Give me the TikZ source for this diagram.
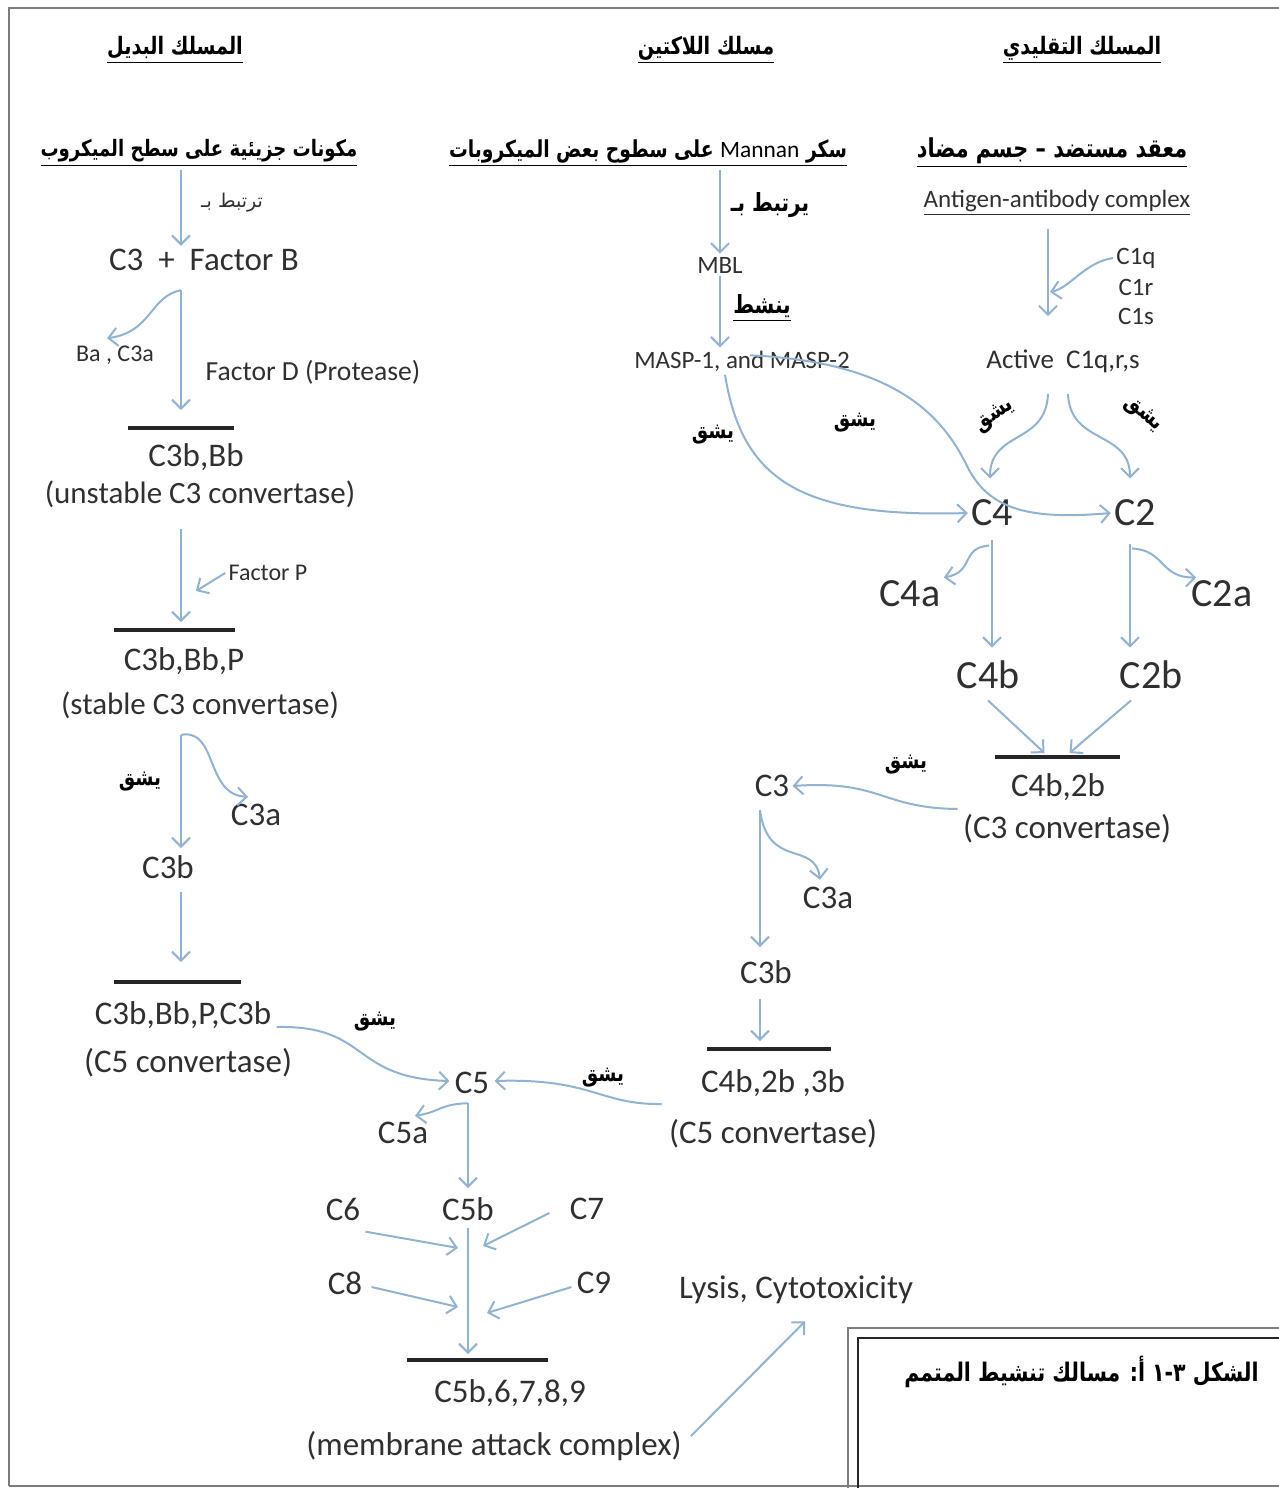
\documentclass[tikz,border=0pt]{standalone}
\usepackage{fontspec}
\setmainfont{Carlito}
\newfontfamily\arabicfont[Script=Arabic]{DejaVu Sans}
\newfontfamily\arabicnarrow[Script=Arabic,FakeStretch=0.8]{DejaVu Sans}
\TeXXeTstate=1
\usetikzlibrary{arrows.meta,calc}
\definecolor{arrowblue}{RGB}{146,178,210}
\definecolor{ink}{RGB}{48,48,48}
\definecolor{bardark}{RGB}{38,38,38}
\definecolor{rimgray}{RGB}{125,125,125}
\tikzset{
  txt/.style={text=ink, inner sep=1.5pt},
  lat/.style={txt, font=\fontsize{16.5}{19}\selectfont},
  latw/.style={txt, font=\fontsize{15.5}{18}\selectfont},
  latm/.style={txt, font=\fontsize{12.5}{15}\selectfont},
  lats/.style={txt, font=\fontsize{12}{14}\selectfont},
  latb/.style={txt, font=\fontsize{20}{24}\selectfont},
  arh/.style={txt, text=black, font=\arabicnarrow\bfseries\fontsize{12}{15}\selectfont},
  arm/.style={txt, text=black, font=\arabicnarrow\bfseries\fontsize{11.5}{13}\selectfont},
  ars/.style={txt, font=\arabicfont\fontsize{9.5}{12}\selectfont},
  arcap/.style={txt, text=black, font=\arabicnarrow\bfseries\fontsize{12.8}{15}\selectfont},
  arr/.style={draw=arrowblue, line width=1pt, ->},
  cbar/.style={draw=bardark, line width=2pt},
  rim/.style={draw=rimgray, line width=1.2pt},
}
\begin{document}
\begin{tikzpicture}[x=0.5pt,y=-0.5pt,>={Straight Barb[length=4.5pt,width=9pt]}]
\useasboundingbox (0,0) rectangle (1279,1488);

% Rahmen
\draw[rim] (9,1486) -- (9,8) -- (1279,8);
\draw[rim] (9,1486) -- (1279,1486);
\draw[rim] (848,1488) |- (1279,1328);
\draw[draw=bardark, line width=1pt] (858,1488) |- (1279,1338);
\node[arcap, anchor=east] (cap) at (1262,1372) {\beginR الشكل ٣-١ أ: مسالك تنشيط المتمم\endR};

\coordinate (colA) at (181,0);
\coordinate (colB) at (720,0);
\coordinate (colC) at (1048,0);
\coordinate (colD) at (760,0);
\coordinate (colE) at (468,0);

% Alternative pathway
\node[arh] (hAlt) at (175,50) {\underline{\beginR المسلك البديل\endR}};
\node[arh, font=\arabicnarrow\bfseries\fontsize{11.3}{13}\selectfont] (srcAlt) at (199,153) {\underline{\beginR مكونات جزيئية على سطح الميكروب\endR}};
\node[ars] (bindA) at (232,203) {\beginR ترتبط بـ\endR};
\node[lat] (c3fb) at (204,260) {C3 \ + \ Factor B};
\node[lats] (bac3a) at (115,355) {Ba , C3a};
\node[latm, font=\fontsize{13.8}{16}\selectfont] (factD) at (313,372) {Factor D (Protease)};
\node[lat] (cbb) at (196,457) {C3b,Bb};
\node[latw] (unst) at (200,494) {(unstable C3 convertase)};
\node[lats] (factP) at (268,573) {Factor P};
\node[lat] (cbbp) at (184,661) {C3b,Bb,P};
\node[latw] (stab) at (200,705) {(stable C3 convertase)};
\node[arm] (cutA1) at (140,782) {\beginR يشق\endR};
\node[lat] (c3aA) at (256,815) {C3a};
\node[lat] (c3bA) at (168,867) {C3b};
\node[lat] (cbbpc) at (183,1015) {C3b,Bb,P,C3b};
\node[lat] (c5cA) at (188,1063) {(C5 convertase)};
\node[arm] (cutA2) at (375,1022) {\beginR يشق\endR};

\draw[cbar] (128,428) -- coordinate (barA1) (234,428);
\draw[cbar] (114,630) -- coordinate (barA2) (235,630);
\draw[cbar] (114,982) -- coordinate (barA3) (241,982);

\draw[arr] (srcAlt.south -| colA) -- (c3fb.north -| colA);
\draw[arr] ($(c3fb.south -| colA)+(0,16)$) coordinate (brA1) -- ($(barA1 -| colA)+(0,-18)$);
\draw[arr] (brA1) .. controls (150,296) and (152,332) .. ($(bac3a.north)+(-8,-4)$);
\draw[arr] ($(unst.south -| colA)+(0,18)$) -- ($(barA2 -| colA)+(0,-8)$);
\draw[arr] (factP.west) -- ($(factP.west -| colA)+(15,18)$);
\draw[arr] ($(stab.south -| colA)+(0,13)$) coordinate (brA2) -- ($(c3bA.north -| colA)+(0,-4)$);
\draw[arr] (brA2) .. controls (218,728) and (205,795) .. ($(c3aA.north)+(-8,-4)$);
\draw[arr] ($(c3bA.south -| colA)+(0,10)$) -- ($(barA3 -| colA)+(0,-20)$);

% Lectin pathway
\node[arh] (hLec) at (706,50) {\underline{\beginR مسلك اللاكتين\endR}};
\node[arh, font=\arabicnarrow\bfseries\fontsize{11.7}{14}\selectfont] (srcLec) at (648,153) {\underline{\beginR سكر {\normalfont\mdseries Mannan} على سطوح بعض الميكروبات\endR}};
\node[arm, font=\arabicnarrow\bfseries\fontsize{12.5}{15}\selectfont] (bindB) at (770,205) {\beginR يرتبط بـ\endR};
\node[latm] (mbl) at (720,265) {MBL};
\node[arm, font=\arabicnarrow\bfseries\fontsize{12.5}{15}\selectfont] (actB) at (762,308) {\underline{\beginR ينشط\endR}};
\node[latm] (masp) at (742,361) {MASP-1, and MASP-2};
\node[arm] (cutB1) at (713,435) {\beginR يشق\endR};
\node[arm] (cutB2) at (855,423) {\beginR يشق\endR};

\draw[arr] (srcLec.south -| colB) -- (mbl.north -| colB);
\draw[arr] (mbl.south -| colB) -- (masp.north -| colB);

% Classical pathway
\node[arh] (hCls) at (1082,50) {\underline{\beginR المسلك التقليدي\endR}};
\node[arh, font=\arabicnarrow\bfseries\fontsize{13}{15}\selectfont] (srcCls) at (1052,153) {\underline{\beginR معقد مستضد – جسم مضاد\endR}};
\node[latm] (agab) at (1057,203) {\underline{Antigen-antibody complex}};
\node[latm] (c1q) at (1136,258) {C1q};
\node[latm] (c1r) at (1136,287) {C1r};
\node[latm] (c1s) at (1136,316) {C1s};
\node[latm, font=\fontsize{13.5}{16}\selectfont] (act) at (1063,361) {Active\ \ C1q,r,s};
\node[arm, rotate=35] (cutC1) at (995,416) {\beginR يشق\endR};
\node[arm, rotate=-40] (cutC2) at (1143,414) {\beginR يشق\endR};
\node[latb] (c4) at (992,513) {C4};
\node[latb] (c2) at (1135,513) {C2};
\node[latb] (c4a) at (910,594) {C4a};
\node[latb] (c2a) at (1222,594) {C2a};
\node[latb] (c4b) at (988,675) {C4b};
\node[latb] (c2b) at (1151,675) {C2b};
\draw[cbar] (995,757) -- coordinate (barC1) (1120,757);
\node[lat] (c42) at (1058,787) {C4b,2b};
\node[lat] (c3cC) at (1067,829) {(C3 convertase)};
\node[arm] (cutC3) at (906,765) {\beginR يشق\endR};

\coordinate (c1in) at (1050,292);
\draw[arr] ($(agab.south -| colC)+(0,10)$) -- ($(act.north -| colC)+(0,-30)$);
\draw[arr] (c1q.west) .. controls (1085,262) and (1070,288) .. (c1in);
\draw[arr] ($(act.south -| colC)+(0,18)$) .. controls (1046,445) and (990,430) .. ($(c4.north)+(-2,-18)$);
\draw[arr] ($(act.south -| colC)+(20,18)$) .. controls (1070,445) and (1130,430) .. ($(c2.north)+(-5,-18)$);

\draw[arr] ($(masp.south -| colB)+(5,0)$) .. controls (742,480) and (800,518) .. (c4.west);
\draw[arr] ($(masp.north)+(8,8)$) .. controls (900,362) and (945,420) .. (968,468) .. controls (990,510) and (1030,520) .. (c2.west);

\draw[arr] ($(c4.south)+(0,10)$) coordinate (brC1) -- ($(c4b.north -| c4)+(0,-10)$);
\draw[arr] ($(brC1)+(-3,6)$) .. controls (960,548) and (975,572) .. (c4a.north east);
\draw[arr] ($(c2.south)+(-5,14)$) coordinate (brC2) -- ($(c2b.north -| brC2)+(0,-10)$);
\draw[arr] ($(brC2)+(2,5)$) .. controls (1165,550) and (1160,578) .. ($(c2a.north west)+(8,0)$);
\draw[arr] ($(c4b.south)+(0,8)$) -- ($(barC1)+(-13,-4)$);
\draw[arr] ($(c2b.south)+(-20,8)$) -- ($(barC1)+(12,-4)$);

% C3 to C5 convertase
\node[lat] (c3D) at (772,786) {C3};
\node[lat] (c3aD) at (828,898) {C3a};
\node[lat] (c3bD) at (766,972) {C3b};
\draw[cbar] (707,1049) -- coordinate (barD1) (831,1049);
\node[lat] (c423) at (773,1083) {C4b,2b ,3b};
\node[lat] (c5cD) at (773,1134) {(C5 convertase)};
\node[arm] (cutD1) at (603,1078) {\beginR يشق\endR};

\draw[arr] ($(c3cC.west)+(-2,-20)$) .. controls (880,808) and (882,780) .. (c3D.east);
\draw[arr] ($(c3D.south -| colD)+(0,10)$) coordinate (brD1) -- ($(c3bD.north -| colD)+(0,-10)$);
\draw[arr] (brD1) .. controls (768,870) and (815,840) .. ($(c3aD.north)+(-8,-4)$);
\draw[arr] ($(c3bD.south -| colD)+(0,12)$) -- ($(barD1 -| colD)+(0,-8)$);

% Membrane attack complex
\node[lat] (c5) at (472,1083) {C5};
\node[lat] (c5a) at (403,1133) {C5a};
\node[lat] (c5b) at (468,1209) {C5b};
\node[lat] (c6) at (343,1209) {C6};
\node[lat] (c7) at (587,1209) {C7};
\node[lat] (c8) at (345,1283) {C8};
\node[lat] (c9) at (594,1283) {C9};
\draw[cbar] (407,1360) -- coordinate (barE1) (548,1360);
\node[lat] (mac) at (510,1393) {C5b,6,7,8,9};
\node[lat] (macl) at (494,1446) {(membrane attack complex)};
\node[lat] (lysis) at (796,1290) {Lysis, Cytotoxicity};

\draw[arr] ($(cbbpc.east)+(2,12)$) .. controls (370,1025) and (350,1078) .. ($(c5.west)+(-2,-2)$);
\draw[arr] ($(c5cD.west)+(-4,-30)$) .. controls (600,1105) and (592,1078) .. ($(c5.east)+(2,-2)$);
\draw[arr] ($(c5.south -| colE)+(0,6)$) coordinate (brE1) -- ($(c5b.north -| colE)+(0,-6)$);
\draw[arr] (brE1) .. controls (440,1104) and (440,1112) .. ($(c5a.north)+(12,-3)$);
\draw[arr] ($(c5b.south -| colE)+(0,4)$) -- ($(barE1 -| colE)+(0,-6)$);
\draw[arr] ($(c6.south east)+(2,8)$) -- ($(c5b.south -| colE)+(-10,24)$);
\draw[arr] ($(c7.west)+(-17,4)$) -- ($(c5b.south -| colE)+(15,22)$);
\draw[arr] ($(c8.east)+(6,4)$) -- ($(c5b.south -| colE)+(-10,83)$);
\draw[arr] ($(c9.west)+(-2,4)$) -- ($(c5b.south -| colE)+(19,89)$);
\draw[arr] ($(macl.east)+(6,-10)$) -- ($(lysis.south)+(9,14)$);
\end{tikzpicture}
\end{document}
